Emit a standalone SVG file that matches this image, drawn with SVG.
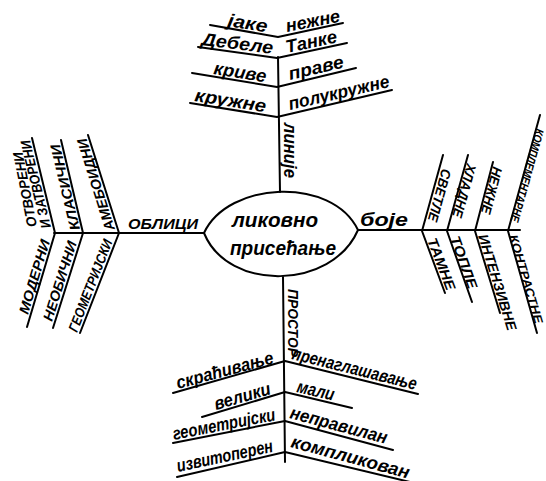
<svg xmlns="http://www.w3.org/2000/svg" width="546" height="481" viewBox="0 0 546 481">
<style>
.ln{stroke:#000;stroke-width:2;fill:none;stroke-linecap:round;stroke-linejoin:round}
text{font-family:"Liberation Sans","DejaVu Sans",sans-serif;font-style:italic;font-weight:bold;fill:#000}
.lc{font-size:18px}
.uc{font-size:14px}
.sm{font-size:12px}
.ct{font-size:20px}
</style>
<rect width="546" height="481" fill="#fff"/>
<g id="connectors" class="ln">
<path d="M210,25 L278,37 L343,23"/>
<path d="M198,47 L277,58 L347,43"/>
<path d="M192,73 L277,87 L356,68"/>
<path d="M190,103 L277,117 L392,90"/>
<path d="M278,57 L280,192"/>
<path d="M54,233 L204,233"/>
<path d="M32,138 L55,233 L27,327"/>
<path d="M61,140 L83,233 L53,328"/>
<path d="M88,135 L119,233 L80,333"/>
<path d="M358,230 L520,230"/>
<path d="M443,155 L422,231 L445,293"/>
<path d="M468,155 L447,231 L472,302"/>
<path d="M493,162 L475,231 L500,313"/>
<path d="M540,115 L508,231 L537,333"/>
<path d="M283,277 L285,462"/>
<path d="M173,393 L285,361 L418,394"/>
<path d="M202,417 L285,392 L352,408"/>
<path d="M173,443 L285,421 L393,450"/>
<path d="M177,477 L285,452 L410,482"/>
</g>
<g id="center">
<path class="ln" d="M204,233 C228,181 332,176 358,230 C332,290 228,292 204,233 Z"/>
<text class="ct" x="232" y="227" textLength="86" lengthAdjust="spacingAndGlyphs">ликовно</text>
<text class="ct" x="230" y="255" textLength="106" lengthAdjust="spacingAndGlyphs">присећање</text>
</g>
<g id="linije">
<text class="lc" transform="translate(284,123) rotate(90)" textLength="55" lengthAdjust="spacingAndGlyphs">линије</text>
<text class="lc" transform="translate(227,26) rotate(9)" textLength="40" lengthAdjust="spacingAndGlyphs">јаке</text>
<text class="lc" transform="translate(287,32) rotate(-11)" textLength="55" lengthAdjust="spacingAndGlyphs">нежне</text>
<text class="lc" transform="translate(201,45) rotate(7)" textLength="72" lengthAdjust="spacingAndGlyphs">Дебеле</text>
<text class="lc" transform="translate(287,53) rotate(-12)" textLength="52" lengthAdjust="spacingAndGlyphs">Танке</text>
<text class="lc" transform="translate(213,74) rotate(9)" textLength="53" lengthAdjust="spacingAndGlyphs">криве</text>
<text class="lc" transform="translate(290,80) rotate(-13)" textLength="56" lengthAdjust="spacingAndGlyphs">праве</text>
<text class="lc" transform="translate(194,101) rotate(9)" textLength="72" lengthAdjust="spacingAndGlyphs">кружне</text>
<text class="lc" transform="translate(290,110) rotate(-13)" textLength="103" lengthAdjust="spacingAndGlyphs">полукружне</text>
</g>
<g id="oblici">
<text class="uc" x="128" y="229" textLength="70" lengthAdjust="spacingAndGlyphs">ОБЛИЦИ</text>
<text class="uc" transform="translate(51,227) rotate(-103.6)" textLength="90" lengthAdjust="spacingAndGlyphs">И ЗАТВОРЕНИ</text>
<text class="uc" transform="translate(37,226) rotate(-101)" textLength="76" lengthAdjust="spacingAndGlyphs">ОТВОРЕНИ</text>
<text class="uc" transform="translate(80,229) rotate(-103.3)" textLength="88" lengthAdjust="spacingAndGlyphs">КЛАСИЧНИ</text>
<text class="uc" transform="translate(115,229) rotate(-107.5)" textLength="96" lengthAdjust="spacingAndGlyphs">АМЕБОИДНИ</text>
<text class="uc" transform="translate(28,315) rotate(-73.4)" textLength="77" lengthAdjust="spacingAndGlyphs">МОДЕРНИ</text>
<text class="uc" transform="translate(52,322) rotate(-72.5)" textLength="83" lengthAdjust="spacingAndGlyphs">НЕОБИЧНИ</text>
<text class="uc" transform="translate(77,333) rotate(-68.7)" textLength="98" lengthAdjust="spacingAndGlyphs">ГЕОМЕТРИЈСКИ</text>
</g>
<g id="boje">
<text class="lc" x="360" y="226" textLength="48" lengthAdjust="spacingAndGlyphs">боје</text>
<text class="uc" transform="translate(442,168) rotate(105.3)" textLength="54" lengthAdjust="spacingAndGlyphs">СВЕТЛЕ</text>
<text class="uc" transform="translate(467,163) rotate(105.5)" textLength="55" lengthAdjust="spacingAndGlyphs">ХЛАДНЕ</text>
<text class="uc" transform="translate(493,166) rotate(104.6)" textLength="48" lengthAdjust="spacingAndGlyphs">НЕЖНЕ</text>
<text class="sm" transform="translate(536,128) rotate(105.5)" textLength="96" lengthAdjust="spacingAndGlyphs">КОМПЛЕМЕНТАРНЕ</text>
<text class="uc" transform="translate(427,240) rotate(69)" textLength="55" lengthAdjust="spacingAndGlyphs">ТАМНЕ</text>
<text class="uc" transform="translate(450,238) rotate(70.3)" textLength="55" lengthAdjust="spacingAndGlyphs">ТОПЛЕ</text>
<text class="uc" transform="translate(478,236) rotate(72.8)" textLength="100" lengthAdjust="spacingAndGlyphs">ИНТЕНЗИВНЕ</text>
<text class="sm" transform="translate(509,236) rotate(73.5)" textLength="92" lengthAdjust="spacingAndGlyphs">КОНТРАСТНЕ</text>
</g>
<g id="prostor">
<text class="uc" transform="translate(288,289) rotate(90)" textLength="68" lengthAdjust="spacingAndGlyphs">ПРОСТОР</text>
<text class="lc" transform="translate(178,389) rotate(-15)" textLength="100" lengthAdjust="spacingAndGlyphs">скраћивање</text>
<text class="lc" transform="translate(291,359) rotate(14)" textLength="128" lengthAdjust="spacingAndGlyphs">пренаглашавање</text>
<text class="lc" transform="translate(216,410) rotate(-16)" textLength="58" lengthAdjust="spacingAndGlyphs">велики</text>
<text class="lc" transform="translate(296,392) rotate(13)" textLength="38" lengthAdjust="spacingAndGlyphs">мали</text>
<text class="lc" transform="translate(174,440) rotate(-11)" textLength="104" lengthAdjust="spacingAndGlyphs">геометријски</text>
<text class="lc" transform="translate(289,418) rotate(15)" textLength="100" lengthAdjust="spacingAndGlyphs">неправилан</text>
<text class="lc" transform="translate(178,472) rotate(-12)" textLength="98" lengthAdjust="spacingAndGlyphs">извитоперен</text>
<text class="lc" transform="translate(290,447) rotate(15)" textLength="122" lengthAdjust="spacingAndGlyphs">компликован</text>
</g>
</svg>
